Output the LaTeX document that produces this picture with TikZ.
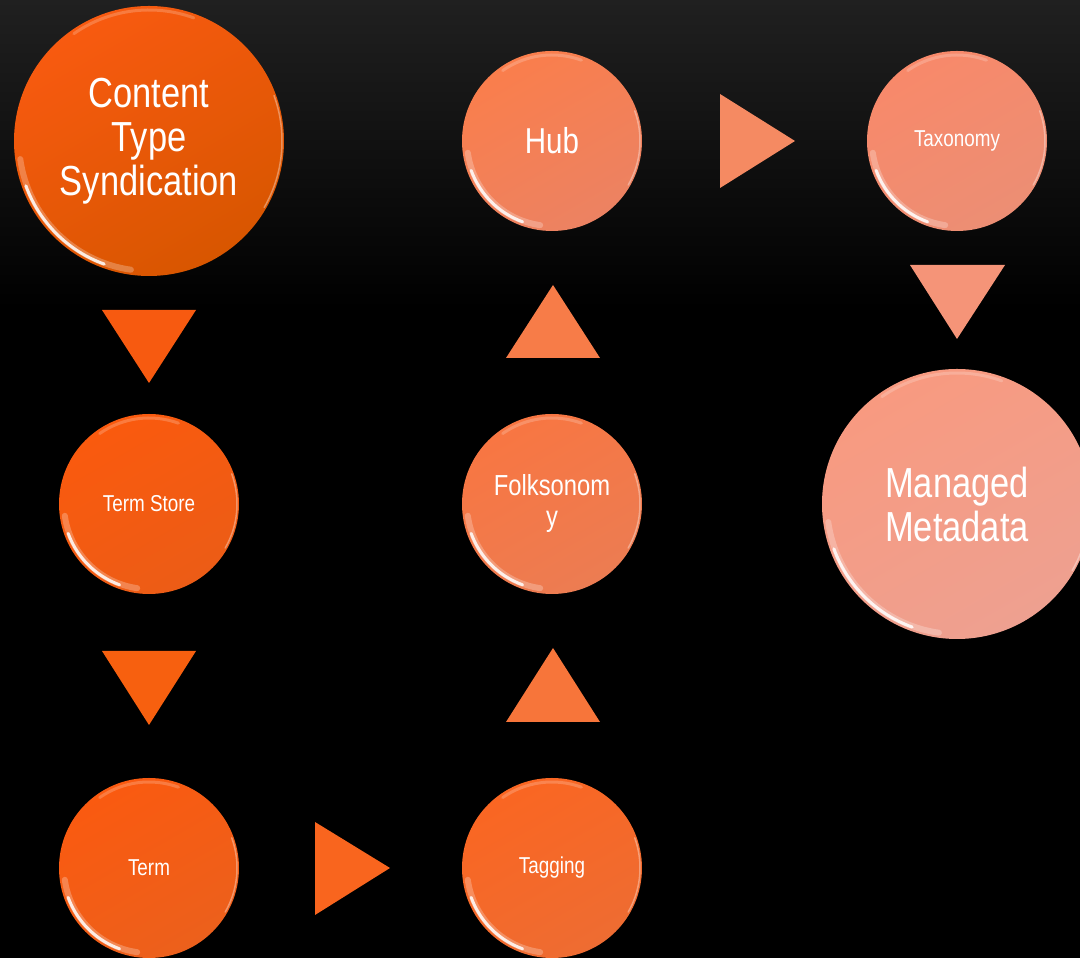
\documentclass[tikz,border=0pt]{standalone}
\usepackage{fontspec}
\setmainfont[FakeStretch=0.82]{Liberation Sans}
\usetikzlibrary{calc}
\definecolor{bgtop}{HTML}{202020}
\definecolor{cA}{HTML}{F85A10}\definecolor{cAb}{HTML}{D85600}
\definecolor{cB}{HTML}{FA5A0E}\definecolor{cBb}{HTML}{EC5C16}
\definecolor{cC}{HTML}{FA5A10}\definecolor{cCb}{HTML}{EC601C}
\definecolor{cD}{HTML}{FA6622}\definecolor{cDb}{HTML}{EE6C32}
\definecolor{cE}{HTML}{F87642}\definecolor{cEb}{HTML}{EC7C52}
\definecolor{cF}{HTML}{FA7E4C}\definecolor{cFb}{HTML}{EC8262}
\definecolor{cG}{HTML}{F8896A}\definecolor{cGb}{HTML}{EC8E74}
\definecolor{cH}{HTML}{F89A80}\definecolor{cHb}{HTML}{EEA090}
\definecolor{t1}{HTML}{F75A10}\definecolor{t2}{HTML}{F7600F}
\definecolor{t3}{HTML}{F9651E}\definecolor{t4}{HTML}{F7753A}
\definecolor{t5}{HTML}{F77C48}\definecolor{t6}{HTML}{F58A62}
\definecolor{t7}{HTML}{F59478}
\tikzset{
  ball/.style 2 args={circle, inner sep=0pt, text=white, align=center,
    top color=#1, bottom color=#2, shading angle=30},
  small/.style={minimum size=180pt},
  big/.style={minimum size=270pt},
  arrowtri/.style={fill=#1, draw=none},
  fbig/.style={font=\fontsize{42}{44}\selectfont},
  fmid/.style={font=\fontsize{36}{38}\selectfont},
  ffolk/.style={font=\fontsize{29}{31}\selectfont},
  fsmall/.style={font=\fontsize{23}{25}\selectfont},
}
\newcommand{\glint}[2]{%
  \draw[white, line width=6pt, opacity=0.25, line cap=round]
    ([shift={(188:#2-5)}]#1.center) arc[start angle=188, end angle=262, radius=#2-5];
  \draw[white, line width=3pt, opacity=0.85, line cap=round]
    ([shift={(200:#2-4)}]#1.center) arc[start angle=200, end angle=250, radius=#2-4];
  \draw[white, line width=3pt, opacity=0.2, line cap=round]
    ([shift={(70:#2-4)}]#1.center) arc[start angle=70, end angle=125, radius=#2-4];
  \draw[white, line width=1.5pt, opacity=0.35, line cap=round]
    ([shift={(-30:#2-2)}]#1.center) arc[start angle=-30, end angle=20, radius=#2-2];
}
\begin{document}
\begin{tikzpicture}[x=1pt,y=1pt]
\useasboundingbox (0,0) rectangle (1080,958);
\fill[black] (0,0) rectangle (1080,958);
\shade[top color=bgtop, bottom color=black] (0,650) rectangle (1080,958);

% circles
\node[ball={cA}{cAb}, big, fbig] (cts) at (149,817) {Content\\Type\\Syndication};
\node[ball={cF}{cFb}, small, fmid] (hub) at (552,817) {Hub};
\node[ball={cG}{cGb}, small, fsmall] (tax) at (957,817) {Taxonomy};
\node[ball={cB}{cBb}, small, fsmall] (store) at (149,454) {Term Store};
\node[ball={cE}{cEb}, small, ffolk] (folk) at (552,454) {Folksonom\\y};
\node[ball={cH}{cHb}, big, fbig] (mm) at (957,454) {Managed\\Metadata};
\node[ball={cC}{cCb}, small, fsmall] (term) at (149,90) {Term};
\node[ball={cD}{cDb}, small, fsmall] (tag) at (552,90) {Tagging};

\glint{cts}{135}\glint{hub}{90}\glint{tax}{90}\glint{store}{90}
\glint{folk}{90}\glint{mm}{135}\glint{term}{90}\glint{tag}{90}

% arrow triangles
\fill[arrowtri=t1] (102,648) -- (196,648) -- (149,575) -- cycle;
\fill[arrowtri=t2] (102,307) -- (196,307) -- (149,233) -- cycle;
\fill[arrowtri=t3] (315,136) -- (390,90) -- (315,43) -- cycle;
\fill[arrowtri=t4] (506,236) -- (600,236) -- (553,310) -- cycle;
\fill[arrowtri=t5] (506,600) -- (600,600) -- (553,673) -- cycle;
\fill[arrowtri=t6] (720,864) -- (795,817) -- (720,770) -- cycle;
\fill[arrowtri=t7] (910,693) -- (1005,693) -- (957,619) -- cycle;
\end{tikzpicture}
\end{document}
